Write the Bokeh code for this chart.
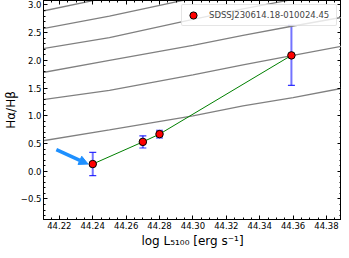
from bokeh.plotting import figure
from bokeh.models import (Range1d, LinearAxis, FixedTicker, CustomJSTickFormatter,
                          Whisker, TeeHead, Arrow, NormalHead, ColumnDataSource)
from bokeh.embed import file_html
from bokeh.resources import INLINE

# ---- model curves (gray) ----
x_model = [44.21, 44.25, 44.30, 44.33, 44.36, 44.39]
curve_1 = [0.55, 0.745, 1.00, 1.18, 1.33, 1.50]
curve_2 = [1.29, 1.46, 1.74, 1.92, 2.09, 2.26]
curve_3 = [1.78, 2.00, 2.27, 2.45, 2.62, 2.78]
curve_4 = [2.21, 2.41, 2.74, 2.93, 3.10, 3.27]
curve_5 = [2.57, 2.80, 3.12, 3.30, 3.48, 3.65]
curve_6 = [2.89, 3.14, 3.45, 3.65, 3.85, 4.05]

# ---- observed points ----
log_l5100 = [44.24, 44.27, 44.28, 44.359]
balmer_dec = [0.13, 0.53, 0.67, 2.09]
balmer_err = [0.21, 0.11, 0.07, 0.54]
object_name = "SDSSJ230614.18-010024.45"

# ---- arrow (annotation) ----
arrow_start = [44.2182, 0.39]
arrow_end = [44.2372, 0.13]

# ---- ticks ----
x_ticks = [44.22, 44.24, 44.26, 44.28, 44.30, 44.32, 44.34, 44.36, 44.38]
y_ticks = [-0.5, 0.0, 0.5, 1.0, 1.5, 2.0, 2.5, 3.0]
x_minor = [round(44.21 + 0.005 * i, 3) for i in range(37)]
y_minor = [round(-0.8 + 0.1 * i, 2) for i in range(39)]

FONT = "DejaVu Sans"

p = figure(width=341, height=250, output_backend="svg", toolbar_location=None,
           x_range=Range1d(44.2105, 44.389), y_range=Range1d(-0.87, 3.08),
           min_border_left=0, min_border_right=0, min_border_top=0, min_border_bottom=0)
p.grid.visible = False
p.outline_line_color = "black"
p.outline_line_width = 1

for xs, ys in [(x_model, c) for c in (curve_1, curve_2, curve_3, curve_4, curve_5, curve_6)]:
    p.line(xs, ys, line_color="gray", line_width=1.3)

p.line(log_l5100, balmer_dec, line_color="green", line_width=1)

p.add_layout(Arrow(end=NormalHead(size=9, fill_color="#1e90ff", line_color="#1e90ff", line_width=1),
                   x_start=arrow_start[0], y_start=arrow_start[1],
                   x_end=arrow_end[0], y_end=arrow_end[1],
                   line_color="#1e90ff", line_width=3.5))

src = ColumnDataSource(dict(
    x=log_l5100, y=balmer_dec,
    upper=[v + e for v, e in zip(balmer_dec, balmer_err)],
    lower=[v - e for v, e in zip(balmer_dec, balmer_err)],
))
p.add_layout(Whisker(source=src, base="x", upper="upper", lower="lower",
                     line_color="blue", line_alpha=0.55, line_width=2,
                     upper_head=TeeHead(size=7, line_color="blue", line_width=1.2, line_alpha=0.8),
                     lower_head=TeeHead(size=7, line_color="blue", line_width=1.2, line_alpha=0.8)))

p.scatter("x", "y", source=src, size=7.5, fill_color="red", line_color="black",
          line_width=1, legend_label=object_name)

xfmt = CustomJSTickFormatter(code="return tick.toFixed(2);")
yfmt = CustomJSTickFormatter(code="return tick.toFixed(1).replace('-', '\u2212');")
blank = CustomJSTickFormatter(code="return '';")

def style_axis(ax, show_labels=True):
    ax.major_tick_in = 4
    ax.major_tick_out = 0
    ax.minor_tick_in = 2
    ax.minor_tick_out = 0
    ax.axis_line_color = "black"
    ax.major_tick_line_color = "black"
    ax.minor_tick_line_color = "black"
    ax.major_label_text_font = FONT
    ax.major_label_text_font_size = "8.5px" if show_labels else "0px"
    ax.major_label_text_color = "black"
    ax.major_label_standoff = 2 if show_labels else 0
    ax.axis_label_text_font = FONT
    ax.axis_label_text_font_size = "12px"
    ax.axis_label_text_font_style = "normal"
    ax.axis_label_text_color = "black"
    ax.axis_label_standoff = 2

xb = p.xaxis[0]
xb.ticker = FixedTicker(ticks=x_ticks, minor_ticks=x_minor)
xb.formatter = xfmt
xb.axis_label = "log L\u2085\u2081\u2080\u2080 [erg s\u207b\u00b9]"
style_axis(xb)

yl = p.yaxis[0]
yl.ticker = FixedTicker(ticks=y_ticks, minor_ticks=y_minor)
yl.formatter = yfmt
yl.axis_label = "H\u03b1/H\u03b2"
style_axis(yl)
yl.axis_label_standoff = 0

xt = LinearAxis(ticker=FixedTicker(ticks=x_ticks, minor_ticks=x_minor), formatter=blank)
style_axis(xt, False)
p.add_layout(xt, "above")
yr = LinearAxis(ticker=FixedTicker(ticks=y_ticks, minor_ticks=y_minor), formatter=blank)
style_axis(yr, False)
p.add_layout(yr, "right")

lg = p.legend[0]
lg.location = "top_right"
lg.margin = 4
lg.padding = 1
lg.spacing = 0
lg.glyph_width = 20
lg.glyph_height = 18
lg.label_height = 10
lg.label_width = 126
lg.label_standoff = 6
lg.label_text_font = FONT
lg.label_text_font_size = "8.5px"
lg.background_fill_alpha = 0.8
lg.border_line_color = "#cccccc"
lg.border_line_width = 1
try:
    lg.border_radius = 2
except Exception:
    pass

open("out.html", "w").write(file_html(p, INLINE))
